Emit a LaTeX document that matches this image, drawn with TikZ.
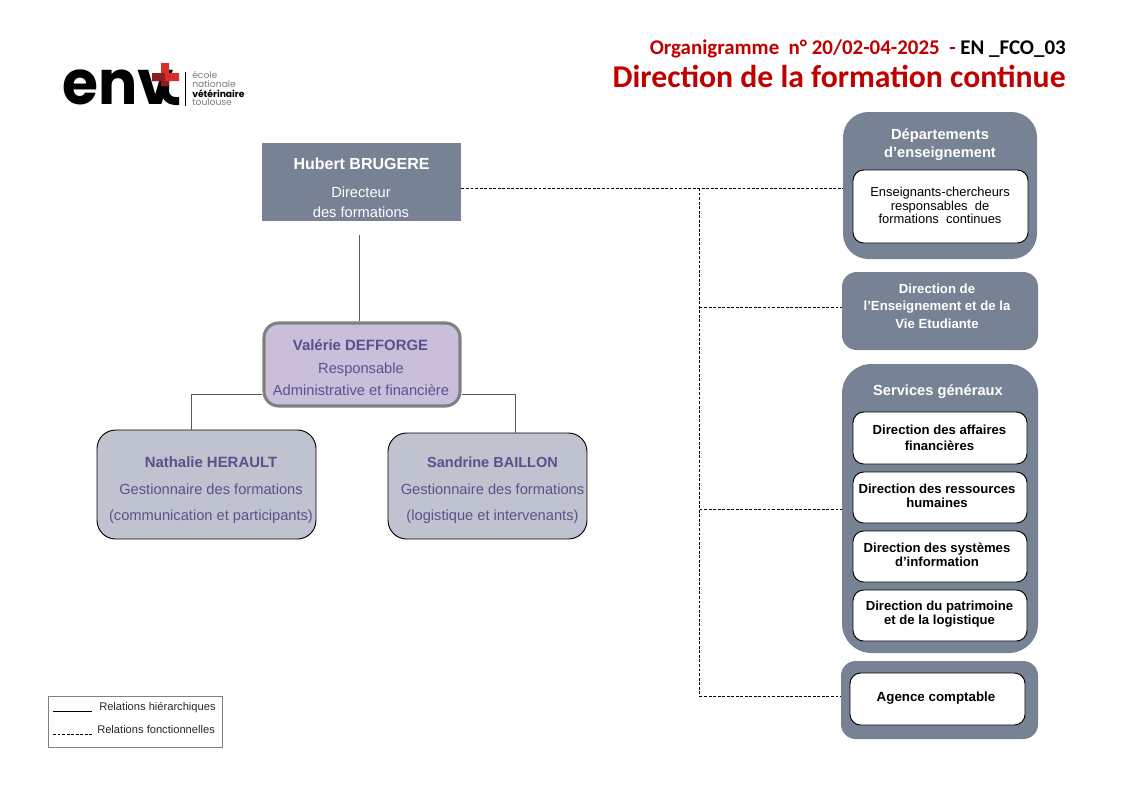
\documentclass[tikz,border=0pt]{standalone}
\usepackage{fontspec}
\setmainfont{Liberation Sans}
\newfontfamily\titlefont{Carlito}
\newfontfamily\logofont{Poppins}
\usetikzlibrary{fit}
\definecolor{slate}{RGB}{120,130,149}
\definecolor{lilac}{RGB}{201,191,218}
\definecolor{bluegrey}{RGB}{191,194,207}
\definecolor{ink}{RGB}{88,82,140}
\definecolor{wine}{RGB}{192,0,0}
\definecolor{logored}{RGB}{214,48,44}
\definecolor{winedark}{RGB}{140,30,32}
\definecolor{linegrey}{RGB}{90,90,90}
\definecolor{logogrey}{RGB}{125,125,125}
\tikzset{
  x=0.75pt,y=-0.75pt,
  boxshape/.style={inner sep=0pt,line width=0.7pt},
  greybox/.style={boxshape,fill=slate},
  whitebox/.style={boxshape,fill=white,draw=black,rounded corners=8pt},
  personbox/.style={boxshape,fill=bluegrey,draw=black,rounded corners=14pt},
  lead/.style={inner sep=0pt,align=center,font=\fontsize{11}{11}\selectfont},
  lightname/.style={lead,text=white,font=\fontsize{12}{12}\selectfont\bfseries},
  lightrole/.style={lead,text=white},
  inkname/.style={lead,text=ink,font=\fontsize{11.2}{11}\selectfont\bfseries},
  inkrole/.style={lead,text=ink,font=\fontsize{11}{11}\selectfont},
  sidehead/.style={lead,text=white,font=\fontsize{11}{13.5}\selectfont\bfseries},
  innerlabel/.style={lead,text=black,font=\fontsize{9.85}{10.6}\selectfont\bfseries},
  hier/.style={draw=linegrey,line width=0.6pt},
  func/.style={draw=black,line width=0.6pt,dash pattern=on 2.2pt off 1.2pt},
  legendtext/.style={inner sep=0pt,anchor=west,font=\fontsize{8.35}{9}\selectfont,text=black!85},
}
\begin{document}
\begin{tikzpicture}
\useasboundingbox (0,0) rectangle (1123,794);

% Logo
\node (logoenv) [inner sep=0pt,anchor=west,font=\fontsize{46}{46}\logofont\bfseries,xscale=0.95] at (62,87) {env};
\draw[black,line width=6pt] (165,80) -- (165,91) arc[start angle=180,end angle=90,radius=10] -- (179,101);
\fill[logored] (161,63) rectangle (169,86) (152,73) rectangle (179,81);
\fill[winedark] (152,73) rectangle (165,81) (161,81) rectangle (169,86);
\draw[black,line width=0.6pt] (185,72) -- (185,106);
\node (logoa) [inner sep=0pt,anchor=west,text=logogrey,font=\fontsize{6.9}{7}\logofont] at (192,74.5) {école};
\node (logob) [inner sep=0pt,anchor=west,text=logogrey,font=\fontsize{6.9}{7}\logofont] at (192,84) {nationale};
\node (logoc) [inner sep=0pt,anchor=west,text=black,font=\fontsize{6.9}{7}\logofont\bfseries] at (192,93.5) {vétérinaire};
\node (logod) [inner sep=0pt,anchor=west,text=logogrey,font=\fontsize{6.9}{7}\logofont] at (192,102.5) {toulouse};

% Title
\node (title1) [inner sep=0pt,anchor=base east,font=\fontsize{15.7}{15}\titlefont\bfseries] at (1066,54.5)
  {\textcolor{wine}{Organigramme \ n° 20/02-04-2025 \ -} EN \_FCO\_03};
\node (title2) [inner sep=0pt,anchor=base east,text=wine,font=\fontsize{23.8}{24}\titlefont\bfseries] at (1066,87.5)
  {Direction de la formation continue};

% Left column boxes
\node (hubert) [greybox,fit={(262,143) (461,221)}] {};
\node (valerie) [boxshape,fill=lilac,draw=black!50,line width=2.3pt,rounded corners=11pt,fit={(264,323) (460,406)}] {};
\node (nathalie) [personbox,fit={(97,430) (316,539)}] {};
\node (sandrine) [personbox,fit={(388,433) (587,539)}] {};

\node (hubert1) [lightname] at (361.5,164) {Hubert BRUGERE};
\node (hubert2) [lightrole] at (361,192) {Directeur};
\node (hubert3) [lightrole] at (361,212) {des formations};
\node (valerie1) [inkname] at (360.5,345) {Valérie DEFFORGE};
\node (valerie2) [inkrole] at (361,370) {Responsable};
\node (valerie3) [inkrole] at (361,390) {Administrative et financière};
\node (nathalie1) [inkname] at (211,462) {Nathalie HERAULT};
\node (nathalie2) [inkrole] at (211,489) {Gestionnaire des formations};
\node (nathalie3) [inkrole] at (211,516.5) {(communication et participants)};
\node (sandrine1) [inkname,font=\fontsize{10.9}{11}\selectfont\bfseries] at (492.5,462) {Sandrine BAILLON};
\node (sandrine2) [inkrole] at (492.5,489) {Gestionnaire des formations};
\node (sandrine3) [inkrole] at (492.5,516.5) {(logistique et intervenants)};

% Right column
\node (dept) [greybox,rounded corners=19pt,fit={(843,112) (1037,259)}] {};
\node (depttitle) [sidehead] at (940,145) {Départements\\d’enseignement};
\node (deptin) [whitebox,fit={(853,170) (1028,243)}] {};
\node (deptlabel) [lead,text=black,font=\fontsize{9.7}{9.9}\selectfont] at (940,205.5) {Enseignants-chercheurs\\responsables \ de\\formations \ continues};

\node (deve) [greybox,rounded corners=11pt,fit={(842,272) (1038,350)}] {};
\node (develabel) [lead,text=white,font=\fontsize{9.9}{13.2}\selectfont\bfseries] at (937,306) {Direction de\\l’Enseignement et de la\\Vie Etudiante};

\node (serv) [greybox,rounded corners=22pt,fit={(842,364) (1038,653)}] {};
\node (servtitle) [sidehead] at (938,392) {Services généraux};
\node (serva) [whitebox,fit={(853,412) (1027,464)}] {};
\node (servb) [whitebox,fit={(853,472) (1027,523)}] {};
\node (servc) [whitebox,fit={(853,531) (1027,582)}] {};
\node (servd) [whitebox,fit={(853,590) (1027,641)}] {};
\node (servalabel) [innerlabel,font=\fontsize{9.85}{12}\selectfont\bfseries] at (939.5,438) {Direction des affaires\\financières};
\node (servblabel) [innerlabel] at (937,496) {Direction des ressources\\humaines};
\node (servclabel) [innerlabel] at (937,555) {Direction des systèmes\\d’information};
\node (servdlabel) [innerlabel] at (939.5,614) {Direction du patrimoine\\et de la logistique};

\node (agence) [greybox,rounded corners=11pt,fit={(841,661) (1038,739)}] {};
\node (agencein) [whitebox,fit={(850,673) (1025,725)}] {};
\node (agencelabel) [innerlabel,font=\fontsize{10}{11}\selectfont\bfseries] at (936,698) {Agence comptable};

% Hierarchical connectors
\coordinate (hubertfoot) at (359.5,235);
\draw[hier] (hubertfoot) -- (hubertfoot |- valerie.north);
\coordinate (elbowl) at (191.5,394);
\coordinate (elbowr) at (515,394);
\draw[hier] (valerie.west |- elbowl) -- (elbowl) -- (elbowl |- nathalie.north);
\draw[hier] (valerie.east |- elbowr) -- (elbowr) -- (elbowr |- sandrine.north);

% Functional connectors
\coordinate (busx) at (699.5,188);
\draw[func] (hubert.east |- busx) -- (dept.west |- busx);
\coordinate (bustwo) at (699.5,307);
\coordinate (busthree) at (699.5,509);
\coordinate (busfour) at (699.5,696);
\draw[func] (busx) -- (busfour);
\draw[func] (bustwo) -- (bustwo -| deve.west);
\draw[func] (busthree) -- (busthree -| serv.west);
\draw[func] (busfour) -- (busfour -| agence.west);

% Legend
\node (legend) [boxshape,draw=black!50,fit={(48,696) (222,747)}] {};
\coordinate (lega) at (53,711);
\coordinate (legb) at (92,711);
\coordinate (legc) at (53,734);
\coordinate (legd) at (92,734);
\draw[draw=black,line width=0.5pt] (lega) -- (legb);
\draw[func] (legc) -- (legd);
\node (legendhier) [legendtext] at (99,708) {Relations hiérarchiques};
\node (legendfunc) [legendtext] at (97,729.5) {Relations fonctionnelles};
\end{tikzpicture}
\end{document}
